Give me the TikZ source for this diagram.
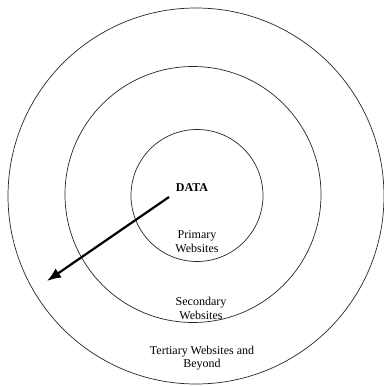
\documentclass[tikz,border=0pt]{standalone}
\usepackage{fontspec}
\setmainfont{Liberation Serif}
\usetikzlibrary{arrows.meta}

\begin{document}
\begin{tikzpicture}[x=1pt, y=-1pt, font=\fontsize{12}{13.5}\selectfont]
    \useasboundingbox (0,0) rectangle (383,387);
    \tikzset{ring/.style={circle, draw=black!85, line width=0.7pt, inner sep=0pt}}
    \node (outer) [ring, minimum size=376pt] at (196,196) {};
    \node (middle) [ring, minimum size=256pt] at (193,194.5) {};
    \node (inner) [ring, minimum size=132pt] at (197,195.5) {};
    \node (data) at (192,188) {\textbf{DATA}};
    \node (primary) [align=center] at (197,241.5) {Primary\\Websites};
    \node (secondary) [align=center] at (201,308.5) {Secondary\\Websites};
    \node (tertiary) [align=center] at (202,358) {Tertiary Websites and\\Beyond};
    \coordinate (start) at (169,197);
    \coordinate (tip) at (47,281);
    \draw [line width=2.2pt, -{Latex[length=14pt, width=11pt]}] (start) -- (tip);
\end{tikzpicture}
\end{document}
